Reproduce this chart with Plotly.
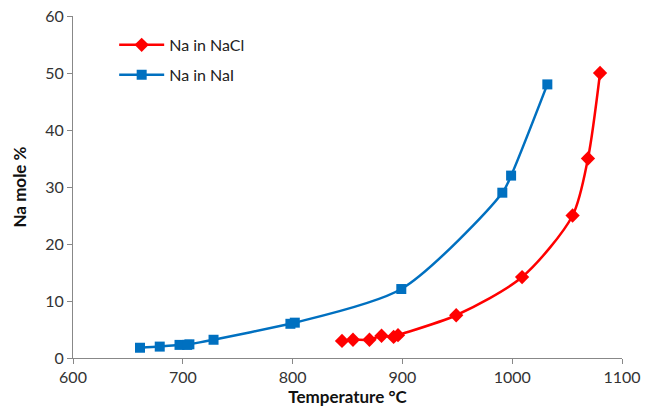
import plotly.graph_objects as go

nacl_temp = [845, 855, 870, 881, 892, 896, 949, 1009, 1055, 1069, 1080]
nacl_mole = [3.0, 3.2, 3.2, 3.9, 3.7, 4.0, 7.5, 14.2, 25.0, 35.0, 50.0]

nai_temp = [661, 679, 697, 704, 706, 728, 798, 802, 899, 991, 999, 1032]
nai_mole = [1.8, 2.0, 2.3, 2.3, 2.4, 3.2, 6.0, 6.2, 12.1, 29.0, 32.0, 48.0]

x_ticks = [600, 700, 800, 900, 1000, 1100]
y_ticks = [0, 10, 20, 30, 40, 50, 60]

font_family = "Lato, 'Open Sans', sans-serif"

fig = go.Figure()
fig.add_trace(go.Scatter(
    x=nacl_temp, y=nacl_mole, name="Na in NaCl", mode="lines+markers",
    legendgroup="nacl",
    line=dict(color="#FF0000", width=2.5, shape="spline", smoothing=0.8),
    marker=dict(symbol="diamond", size=11, color="#FF0000"),
))
fig.add_trace(go.Scatter(
    x=nai_temp, y=nai_mole, name="Na in NaI", mode="lines+markers",
    legendgroup="nai",
    line=dict(color="#0070C0", width=2.5, shape="spline", smoothing=0.8),
    marker=dict(symbol="square", size=10, color="#0070C0"),
))

fig.update_layout(
    width=646, height=411,
    margin=dict(l=73, r=24, t=16, b=53),
    paper_bgcolor="white", plot_bgcolor="white",
    font=dict(family=font_family, size=16, color="#333"),
    showlegend=True,
    legend=dict(x=0.075, y=0.965, xanchor="left", yanchor="top",
                bgcolor="rgba(0,0,0,0)", font=dict(size=16, color="#222"),
                tracegroupgap=6, itemwidth=45),
)
fig.update_xaxes(
    range=[600, 1100], tickvals=x_ticks, showgrid=False, zeroline=False,
    showline=True, linecolor="#888", linewidth=1, automargin=False,
    ticks="outside", tickcolor="#888", ticklen=5,
    title=dict(text="<b>Temperature °C</b>", font=dict(size=17, color="#111"), standoff=4),
)
fig.update_yaxes(
    range=[0, 60], tickvals=y_ticks, showgrid=False, zeroline=False,
    showline=True, linecolor="#888", linewidth=1, automargin=False,
    ticks="outside", tickcolor="#888", ticklen=5,
    title=dict(text="<b>Na mole %</b>", font=dict(size=17, color="#111"), standoff=14),
)

fig.write_html("out.html")
